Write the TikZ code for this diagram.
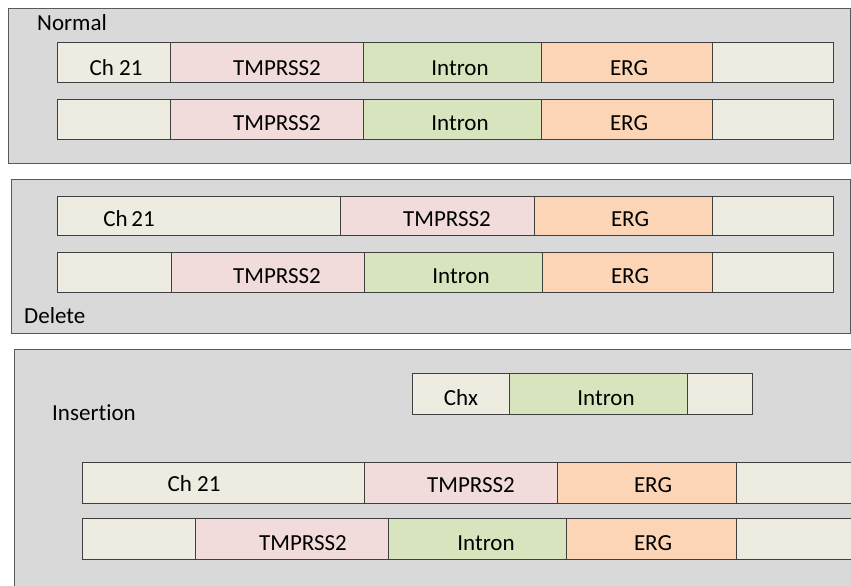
\documentclass[tikz,border=0pt]{standalone}
\usepackage{fontspec}
\setmainfont{Carlito}[Ligatures={NoCommon}]
\definecolor{panelfill}{HTML}{D9D9D9}
\definecolor{paneldraw}{HTML}{595959}
\definecolor{segdraw}{HTML}{3F3F3F}
\definecolor{chrom}{HTML}{EEEBE0}
\definecolor{tmprss}{HTML}{F2DCDB}
\definecolor{intron}{HTML}{D7E4BD}
\definecolor{erg}{HTML}{FBD5B5}
\tikzset{
  panel/.style={draw=paneldraw, fill=panelfill, line width=1pt},
  segbox/.style={draw=segdraw, line width=0.9pt, inner sep=0pt, outer sep=0pt, anchor=north west},
  segtext/.style={anchor=base, inner sep=0pt, font=\fontsize{23}{28}\selectfont},
  paneltitle/.style={anchor=base west, inner sep=0pt, font=\fontsize{23}{28}\selectfont},
}
% \segment{name}{x left}{x right}{y top}{y bottom}{fill}{text}{text x}{text baseline}
\newcommand\segment[9]{%
  \node[segbox, fill=#6, minimum width={(#3-#2)*1pt}, minimum height={(#5-#4)*1pt}] (#1) at (#2,#4) {};
  \node[segtext] (#1-t) at (#8,#9) {#7};
}
\begin{document}
\begin{tikzpicture}[x=1pt, y=-1pt]
\useasboundingbox (0,0) rectangle (851,586);
\clip (0,0) rectangle (851,586);
\fill[white] (0,0) rectangle (851,586);

% ---- Normal ----
\draw[panel] (8,9) rectangle (850,163);
\node[paneltitle] (normal) at (37,31) {Normal};
\segment{na1}{57}{170}{42}{82}{chrom}{Ch 21}{116}{75}
\segment{na2}{170}{363}{42}{82}{tmprss}{TMPRSS2}{277}{75}
\segment{na3}{363}{541}{42}{82}{intron}{Intron}{460}{75}
\segment{na4}{541}{712}{42}{82}{erg}{ERG}{629}{75}
\segment{na5}{712}{833}{42}{82}{chrom}{}{772}{75}
\segment{nb1}{57}{170}{99}{139}{chrom}{}{113}{130}
\segment{nb2}{170}{363}{99}{139}{tmprss}{TMPRSS2}{277}{130}
\segment{nb3}{363}{541}{99}{139}{intron}{Intron}{460}{130}
\segment{nb4}{541}{712}{99}{139}{erg}{ERG}{629}{130}
\segment{nb5}{712}{833}{99}{139}{chrom}{}{772}{130}

% ---- Delete ----
\draw[panel] (11,179) rectangle (850,333);
\node[paneltitle] (delete) at (24,323) {Delete};
\segment{da1}{57}{340}{196}{235}{chrom}{Ch\,21}{129}{226}
\segment{da2}{340}{534}{196}{235}{tmprss}{TMPRSS2}{447}{226}
\segment{da3}{534}{712}{196}{235}{erg}{ERG}{630}{226}
\segment{da4}{712}{833}{196}{235}{chrom}{}{772}{226}
\segment{db1}{57}{171}{252}{292}{chrom}{}{114}{283}
\segment{db2}{171}{364}{252}{292}{tmprss}{TMPRSS2}{277}{283}
\segment{db3}{364}{542}{252}{292}{intron}{Intron}{461}{283}
\segment{db4}{542}{712}{252}{292}{erg}{ERG}{630}{283}
\segment{db5}{712}{833}{252}{292}{chrom}{}{772}{283}

% ---- Insertion (runs off the right and bottom edges) ----
\draw[panel] (14,349) rectangle (880,620);
\node[paneltitle] (insertion) at (52,420) {Insertion};
\segment{xa1}{412}{509}{373}{414}{chrom}{Chx}{461}{405}
\segment{xa2}{509}{687}{373}{414}{intron}{Intron}{606}{405}
\segment{xa3}{687}{752}{373}{414}{chrom}{}{720}{405}
\segment{ia1}{82}{364}{462}{503}{chrom}{Ch 21}{194}{491}
\segment{ia2}{364}{557}{462}{503}{tmprss}{TMPRSS2}{471}{492}
\segment{ia3}{557}{736}{462}{503}{erg}{ERG}{653}{492}
\segment{ia4}{736}{880}{462}{503}{chrom}{}{800}{492}
\segment{ib1}{82}{195}{518}{559}{chrom}{}{138}{550}
\segment{ib2}{195}{388}{518}{559}{tmprss}{TMPRSS2}{303}{550}
\segment{ib3}{388}{566}{518}{559}{intron}{Intron}{486}{550}
\segment{ib4}{566}{736}{518}{559}{erg}{ERG}{653}{550}
\segment{ib5}{736}{880}{518}{559}{chrom}{}{800}{550}
\end{tikzpicture}
\end{document}
